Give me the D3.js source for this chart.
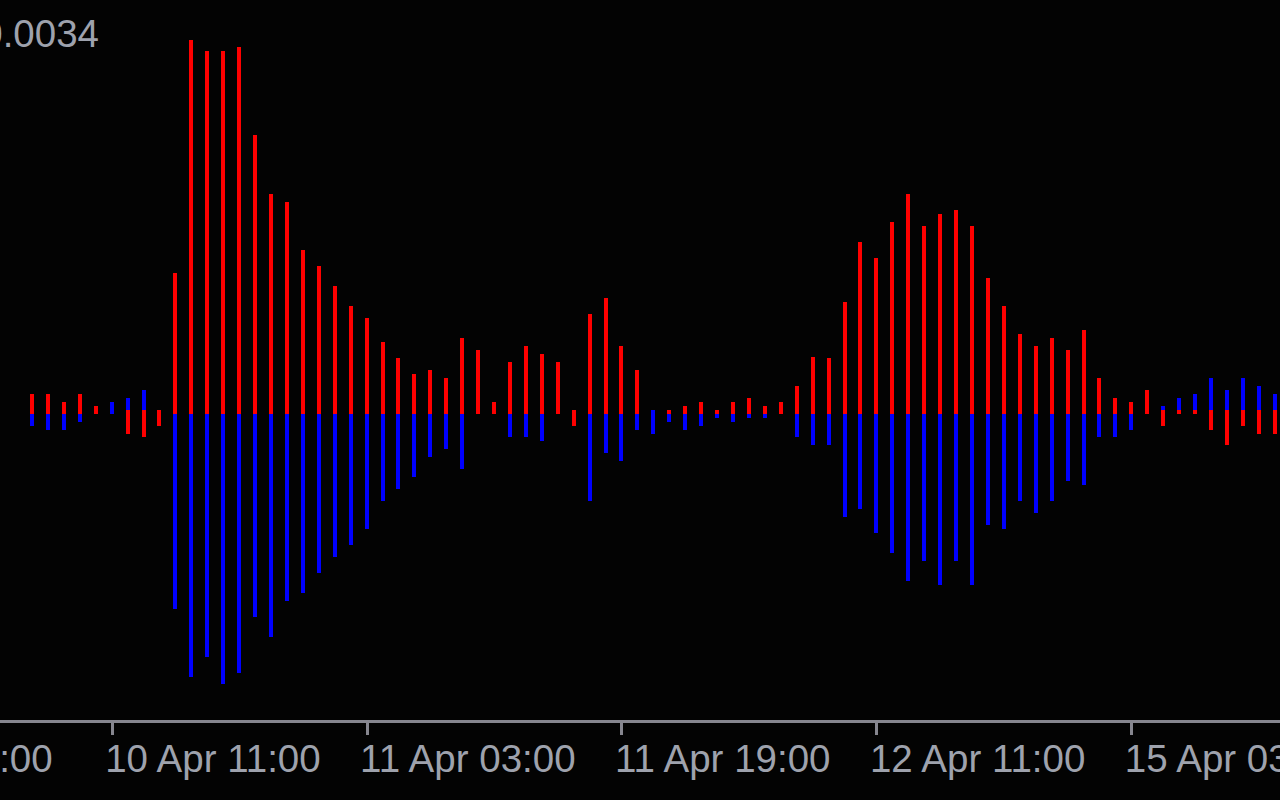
<!DOCTYPE html>
<html>
<head>
<meta charset="utf-8">
<script src="https://cdn.jsdelivr.net/npm/d3@7"></script>
<style>
  html, body { margin: 0; padding: 0; background: #030303; }
  svg { display: block; }
</style>
</head>
<body>
<svg id="chart" width="1280" height="800"></svg>
<script>
// ---- data (hourly bars; indicator values) ----
const barCount = 79;
// base level each histogram segment starts from
const baseLevel = [
  0, 0, 0, 0, 0, 0, 0.000036, 0.000036, 0.000036, 0,
  0, 0, 0, 0, 0, 0, 0, 0, 0, 0,
  0, 0, 0, 0, 0, 0, 0, 0, 0, 0,
  0, 0, 0, 0, 0.000036, 0, 0, 0, 0, 0.000036,
  0, 0, 0, 0, 0, 0, 0, 0, 0, 0,
  0, 0, 0, 0, 0, 0, 0, 0, 0, 0,
  0, 0, 0, 0, 0, 0, 0, 0, 0, 0,
  0, 0.000036, 0.000036, 0.000036, 0.000036, 0.000036, 0.000036, 0.000036, 0.000036
];
const redValues = [
  0.000182, 0.000182, 0.000109, 0.000182, 0.000073, 0, -0.000182, -0.000209, -0.000109, 0.001282,
  0.0034, 0.0033, 0.0033, 0.003336, 0.002536, 0.002, 0.001927, 0.001491, 0.001345, 0.001164,
  0.000982, 0.000873, 0.000655, 0.000509, 0.000364, 0.0004, 0.000327, 0.000691, 0.000582, 0.000109,
  0.000473, 0.000618, 0.000545, 0.000473, -0.000109, 0.000909, 0.001055, 0.000618, 0.0004, 0.000036,
  0.000036, 0.000073, 0.000109, 0.000036, 0.000109, 0.000145, 0.000073, 0.000109, 0.000255, 0.000518,
  0.000509, 0.001018, 0.001564, 0.001418, 0.001745, 0.002, 0.001709, 0.001818, 0.001855, 0.001709,
  0.001236, 0.000982, 0.000727, 0.000618, 0.000691, 0.000582, 0.000764, 0.000327, 0.000145, 0.000109,
  0.000218, -0.000109, 0, 0, -0.000145, -0.000282, -0.000109, -0.000182, -0.000182
];
const blueValues = [
  -0.000109, -0.000145, -0.000145, -0.000073, 0, 0.000109, 0.000145, 0.000218, 0.000036, -0.001773,
  -0.002391, -0.002209, -0.002455, -0.002355, -0.001845, -0.002027, -0.0017, -0.001627, -0.001445, -0.0013,
  -0.001191, -0.001045, -0.000791, -0.000682, -0.000573, -0.000391, -0.000318, -0.0005, 0, 0,
  -0.000209, -0.000209, -0.000245, 0, 0.000036, -0.000791, -0.000355, -0.000427, -0.000145, -0.000182,
  -0.000073, -0.000145, -0.000109, -0.000036, -0.000073, -0.000036, -0.000036, 0, -0.000209, -0.000282,
  -0.000282, -0.000936, -0.000864, -0.001082, -0.001264, -0.001518, -0.001336, -0.001555, -0.001336, -0.001555,
  -0.001009, -0.001045, -0.000791, -0.0009, -0.000791, -0.000609, -0.000645, -0.000209, -0.000209, -0.000145,
  0, 0.000073, 0.000145, 0.000182, 0.000327, 0.000218, 0.000327, 0.000255, 0.000182
];
const timeTickIndex = [-12, 5, 21, 37, 53, 69];
const timeTickLabels = ["09 Apr 18:00", "10 Apr 11:00", "11 Apr 03:00", "11 Apr 19:00", "12 Apr 11:00", "15 Apr 03:00"];
const valueTicks = [0.0034];
const valueTickLabels = ["0.0034"];

// ---- layout ----
const svg = d3.select("#chart");
const W = 1280, H = 800;
const FONT = "'Liberation Sans', Arial, sans-serif";
const FONT_SIZE = 38.5;
const TEXT_COLOR = "#9ea2ad";

svg.append("rect").attr("width", W).attr("height", H).attr("fill", "#030303");

const x = d3.scaleLinear().domain([0, barCount - 1]).range([32, 1274.7]);
const y = d3.scaleLinear().domain([0, 0.0034]).range([414, 40]);

const idx = d3.range(barCount);
const segs = [];
idx.forEach(i => {
  segs.push({ i, from: baseLevel[i], to: redValues[i], color: "#ff0000" });
  segs.push({ i, from: baseLevel[i], to: blueValues[i], color: "#0000ff" });
});

svg.append("g").selectAll("rect")
  .data(segs.filter(d => Math.abs(y(d.from) - y(d.to)) >= 0.5))
  .join("rect")
  .attr("x", d => Math.round(x(d.i)) - 2)
  .attr("width", 4)
  .attr("y", d => Math.round(Math.min(y(d.from), y(d.to))))
  .attr("height", d => Math.round(Math.abs(y(d.from) - y(d.to))))
  .attr("fill", d => d.color)
  .attr("shape-rendering", "crispEdges");

// value label (top-left)
svg.append("g").selectAll("text")
  .data(valueTicks)
  .join("text")
  .attr("x", 99)
  .attr("y", v => y(v) + 7)
  .attr("text-anchor", "end")
  .attr("font-family", FONT)
  .attr("font-size", FONT_SIZE)
  .attr("fill", TEXT_COLOR)
  .text((v, k) => valueTickLabels[k]);

// time axis
svg.append("rect")
  .attr("x", 0).attr("y", 720).attr("width", W).attr("height", 3)
  .attr("fill", "#86868f");

const axis = d3.axisBottom(x)
  .tickValues(timeTickIndex)
  .tickSize(12)
  .tickFormat((d, k) => timeTickLabels[k]);

const gAxis = svg.append("g")
  .attr("transform", "translate(0,723)")
  .call(axis);
gAxis.select(".domain").remove();
gAxis.selectAll(".tick line")
  .attr("stroke", "#86868f")
  .attr("stroke-width", 3)
  .attr("shape-rendering", "crispEdges");
gAxis.selectAll(".tick text")
  .attr("y", 49)
  .attr("dy", 0)
  .attr("dx", -7)
  .attr("text-anchor", "start")
  .attr("font-family", FONT)
  .attr("font-size", FONT_SIZE)
  .attr("fill", TEXT_COLOR);
</script>
</body>
</html>
